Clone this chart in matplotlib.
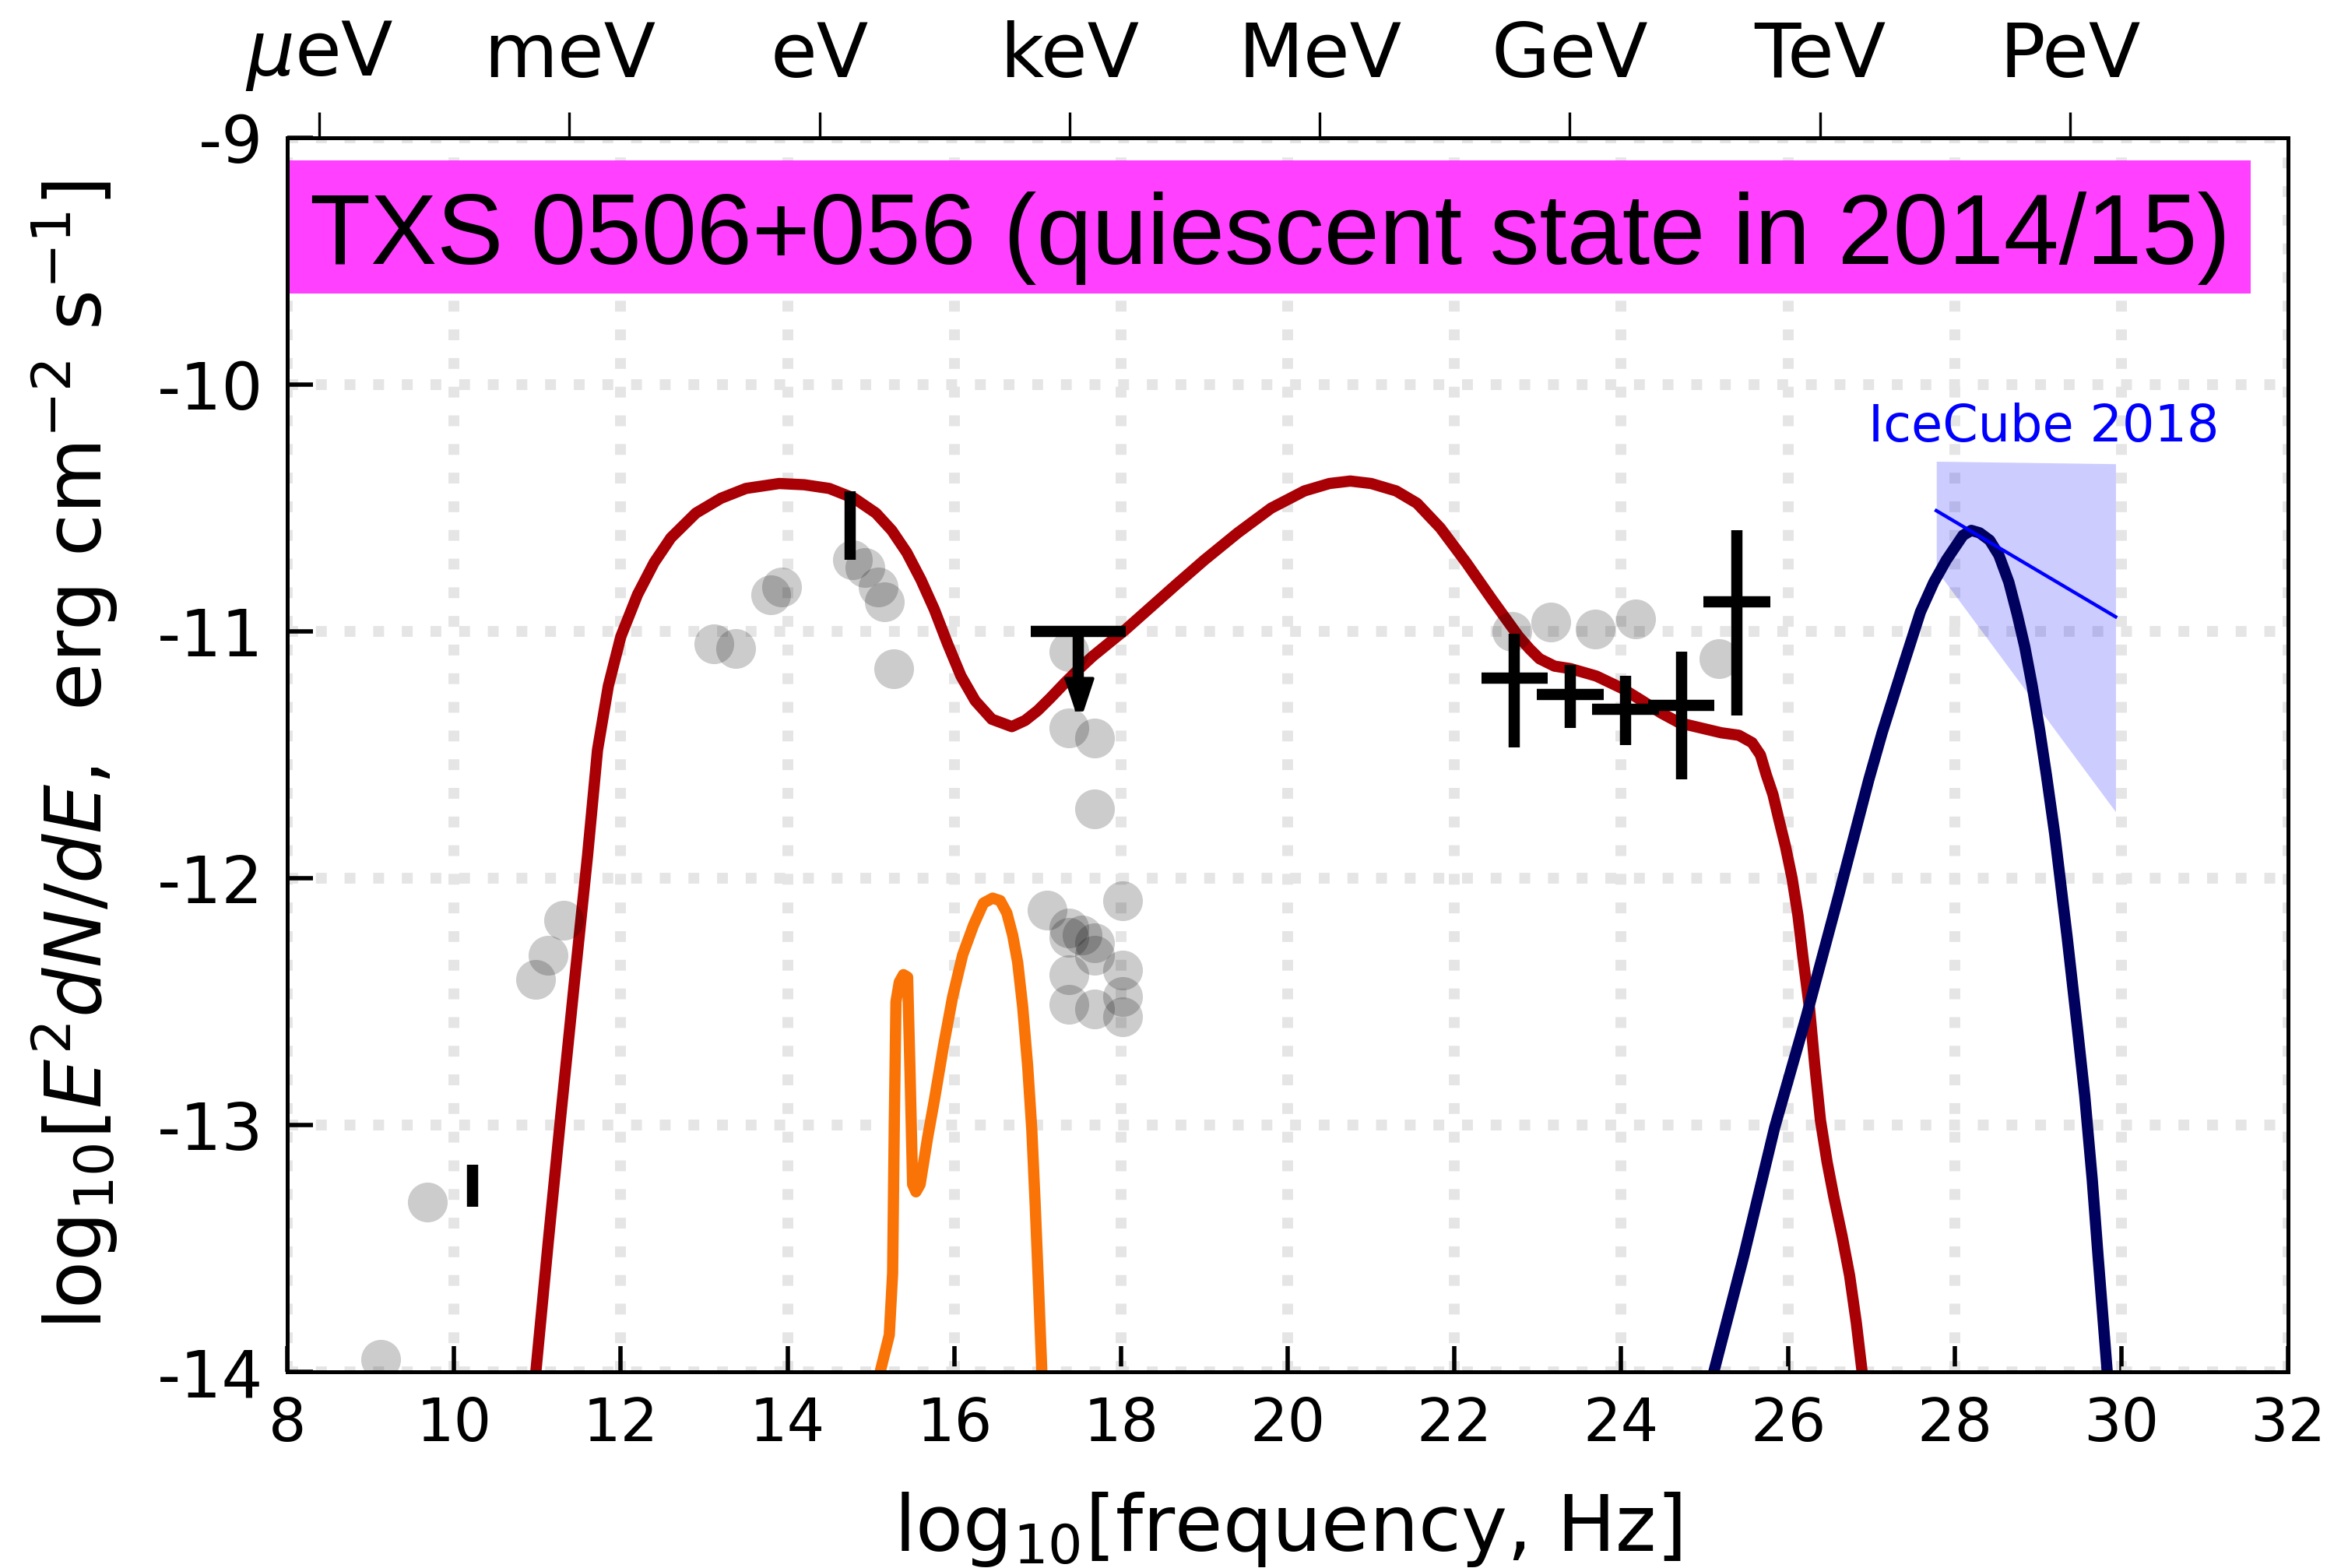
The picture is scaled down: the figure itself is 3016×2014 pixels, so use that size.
import matplotlib
matplotlib.use('Agg')
import matplotlib.pyplot as plt
from matplotlib.patches import Rectangle

plt.rcParams['font.family'] = ['DejaVu Sans']
plt.rcParams['mathtext.fontset'] = 'dejavusans'
plt.rcParams['axes.unicode_minus'] = False

# ---------------- data ----------------
# leptonic model: synchrotron + inverse Compton (dark red)
red_x = [10.98, 11.13, 11.28, 11.44, 11.60, 11.72, 11.85, 12.00, 12.20, 12.40, 12.60, 12.90,
         13.20, 13.50, 13.90, 14.20, 14.50, 14.80, 15.06, 15.25, 15.43, 15.60, 15.76, 15.92,
         16.08, 16.25, 16.45, 16.69, 16.85, 17.00, 17.15, 17.32, 17.50, 17.66, 18.06, 18.66,
         19.00, 19.40, 19.80, 20.20, 20.50, 20.75, 21.00, 21.30, 21.55, 21.83, 22.14, 22.45,
         22.77, 22.90, 23.02, 23.20, 23.39, 23.70, 24.01, 24.25, 24.48, 24.70, 24.95, 25.20,
         25.41, 25.57, 25.67, 25.74, 25.82, 25.89, 25.97, 26.05, 26.12, 26.18, 26.26, 26.32,
         26.39, 26.47, 26.55, 26.65, 26.74, 26.82, 26.89]
red_y = [-14.0, -13.47, -12.96, -12.43, -11.91, -11.48, -11.22, -11.02, -10.85, -10.72, -10.62, -10.52,
         -10.46, -10.42, -10.40, -10.405, -10.42, -10.46, -10.52, -10.59, -10.68, -10.79, -10.91, -11.05,
         -11.18, -11.28, -11.355, -11.385, -11.36, -11.32, -11.27, -11.21, -11.15, -11.10, -10.99, -10.81,
         -10.71, -10.60, -10.50, -10.43, -10.40, -10.39, -10.40, -10.43, -10.48, -10.58, -10.72, -10.87,
         -11.02, -11.07, -11.11, -11.14, -11.15, -11.18, -11.23, -11.28, -11.33, -11.37, -11.39, -11.41,
         -11.42, -11.45, -11.50, -11.58, -11.66, -11.76, -11.87, -12.00, -12.15, -12.32, -12.53, -12.75,
         -12.98, -13.15, -13.29, -13.45, -13.61, -13.80, -14.0]

# thermal / disk component (orange)
orange_x = [15.11, 15.22, 15.26, 15.28, 15.30, 15.34, 15.39, 15.44, 15.47, 15.50, 15.54, 15.59,
            15.68, 15.76, 15.87, 15.98, 16.10, 16.23, 16.35, 16.46, 16.55, 16.63, 16.70, 16.76,
            16.82, 16.88, 16.93, 16.97, 17.01, 17.05]
orange_y = [-14.0, -13.85, -13.6, -13.0, -12.5, -12.42, -12.39, -12.40, -12.8, -13.24, -13.27, -13.24,
            -13.05, -12.90, -12.68, -12.48, -12.31, -12.19, -12.10, -12.08, -12.09, -12.14, -12.23, -12.34,
            -12.52, -12.76, -13.02, -13.32, -13.65, -14.0]

# neutrino spectrum (navy)
navy_x = [25.11, 25.47, 25.84, 26.22, 26.60, 26.97, 27.13, 27.40, 27.59, 27.75, 27.90, 28.00,
          28.10, 28.20, 28.30, 28.42, 28.53, 28.65, 28.75, 28.84, 28.93, 29.02, 29.10, 29.20,
          29.35, 29.47, 29.56, 29.65, 29.72, 29.83]
navy_y = [-14.0, -13.53, -13.01, -12.56, -12.08, -11.60, -11.41, -11.12, -10.92, -10.80, -10.71, -10.66,
          -10.61, -10.59, -10.60, -10.63, -10.69, -10.80, -10.93, -11.06, -11.22, -11.40, -11.58, -11.82,
          -12.24, -12.60, -12.88, -13.22, -13.53, -14.0]

# archival data (grey circles)
arch_x = [9.12, 9.68, 10.98, 11.13, 11.31,
          13.12, 13.38, 13.80, 13.93,
          14.78, 14.93, 15.09, 15.16, 15.27,
          17.37, 17.37, 17.68, 17.68,
          17.11, 18.02, 17.37, 17.53, 17.37, 17.68, 17.68, 17.37, 18.02, 18.02, 17.37, 17.68, 18.02,
          22.69, 23.16, 23.69, 24.17, 25.17]
arch_y = [-13.95, -13.31, -12.41, -12.31, -12.17,
          -11.05, -11.07, -10.85, -10.82,
          -10.71, -10.74, -10.82, -10.88, -11.15,
          -11.08, -11.39, -11.43, -11.72,
          -12.13, -12.09, -12.20, -12.23, -12.24, -12.26, -12.31, -12.39, -12.37, -12.48, -12.51, -12.53, -12.56,
          -11.00, -10.96, -10.99, -10.95, -11.11]

# Fermi-LAT bins (black crosses)
lat_x = [22.72, 23.39, 24.05, 24.72, 25.39]
lat_xerr = [0.40, 0.40, 0.40, 0.40, 0.40]
lat_y = [-11.19, -11.255, -11.315, -11.30, -10.88]
lat_yerr_lo = [0.28, 0.135, 0.145, 0.30, 0.46]
lat_yerr_hi = [0.18, 0.12, 0.135, 0.22, 0.29]

# X-ray upper limit
ul_x = [17.49]
ul_xerr = [0.57]
ul_y = [-11.0]
ul_yerr = [0.19]

# vertical-only data bars (radio, optical)
vb_x = [10.22, 14.75]
vb_y = [-13.245, -10.57]
vb_yerr = [0.085, 0.14]

# IceCube 2018 band and best fit
ic_x = [27.78, 29.93]
ic_hi = [-10.31, -10.32]
ic_lo = [-10.75, -11.73]
ic_fit = [-10.51, -10.94]

# axis ticks
xticks = [8, 10, 12, 14, 16, 18, 20, 22, 24, 26, 28, 30, 32]
yticks = [-14, -13, -12, -11, -10, -9]
energy_pos = [8.383, 11.383, 14.383, 17.383, 20.383, 23.383, 26.383, 29.383]
energy_labels = [r'$\mu$eV', 'meV', 'eV', 'keV', 'MeV', 'GeV', 'TeV', 'PeV']

title = 'TXS 0506+056 (quiescent state in 2014/15)'

# ---------------- figure ----------------
fig = plt.figure(figsize=(15.08, 10.07), dpi=200)
ax = fig.add_axes([0.1224, 0.125, 0.8521, 0.787])
ax.set_xlim(8, 32)
ax.set_ylim(-14, -9)
ax.set_axisbelow(True)
ax.grid(True, linestyle=':', linewidth=5, color='#e5e5e5')

lw = 5.2
ax.fill_between(ic_x, ic_lo, ic_hi, color='blue', alpha=0.2, linewidth=0, zorder=2)
ax.plot(red_x, red_y, color='#a80005', lw=lw, zorder=3, solid_joinstyle='round')
ax.plot(orange_x, orange_y, color='#f97306', lw=lw, zorder=3, solid_joinstyle='round')
ax.plot(navy_x, navy_y, color='#00005f', lw=lw, zorder=3, solid_joinstyle='round')
ax.plot(ic_x, ic_fit, color='blue', lw=1.6, zorder=4)

ax.plot(arch_x, arch_y, 'o', color='black', alpha=0.2, markersize=18.4, markeredgewidth=0, zorder=4)

elw = 5.2
ax.errorbar(lat_x, lat_y, xerr=lat_xerr, yerr=[lat_yerr_lo, lat_yerr_hi], fmt='none',
            ecolor='black', elinewidth=elw, capsize=0, zorder=5)
ax.errorbar(ul_x, ul_y, xerr=ul_xerr, yerr=[ul_yerr, [0.0]], fmt='none',
            ecolor='black', elinewidth=elw, capsize=0, zorder=5)
# downward arrow head of the upper limit, placed at the lower end of its bar
arrow_marker = [(-0.45, 0.0), (0.45, 0.0), (0.12, -1.0), (-0.12, -1.0)]
ax.plot(ul_x, [ul_y[0] - ul_yerr[0]], linestyle='none', marker=arrow_marker, markersize=29,
        color='black', markeredgewidth=1.5, zorder=5)
ax.errorbar(vb_x, vb_y, yerr=vb_yerr, fmt='none', ecolor='black', elinewidth=elw, capsize=0, zorder=5)

ax.text(26.97, -10.23, 'IceCube 2018', color='blue', fontsize=23.5, ha='left', va='baseline', zorder=6)

ax.add_patch(Rectangle((0.0, 0.8738), 0.9813, 0.108, transform=ax.transAxes,
                       facecolor='#ff40ff', edgecolor='none', zorder=6))
ax.text(0.0112, 0.898, title, transform=ax.transAxes, ha='left', va='baseline',
        fontsize=46, family=['Liberation Sans', 'DejaVu Sans'], zorder=7)

ax.set_xticks(xticks)
ax.set_xticklabels([str(v) for v in xticks])
ax.set_yticks(yticks)
ax.set_yticklabels([str(v) for v in yticks])
ax.tick_params(axis='both', which='major', direction='in', length=12, width=2,
               pad=11, top=False, right=False)
ax.tick_params(axis='x', labelsize=27.5)
ax.tick_params(axis='y', labelsize=30)
for s in ax.spines.values():
    s.set_linewidth(1.8)

ax.set_xlabel(r'log$_{10}$[frequency, Hz]', fontsize=36)
ax.xaxis.set_label_coords(0.5, -0.096)
ax.set_ylabel(r'log$_{10}$[$E^2dN/dE$,  erg cm$^{-2}$ s$^{-1}$]', fontsize=36)
ax.yaxis.set_label_coords(-0.0838, 0.5)

ax2 = ax.twiny()
ax2.set_xlim(8, 32)
ax2.set_xticks(energy_pos)
ax2.set_xticklabels(energy_labels)
ax2.tick_params(axis='x', direction='out', length=12, width=1.2, labelsize=35, pad=9)
for s in ax2.spines.values():
    s.set_linewidth(1.8)

fig.savefig('out.png', dpi=200)
